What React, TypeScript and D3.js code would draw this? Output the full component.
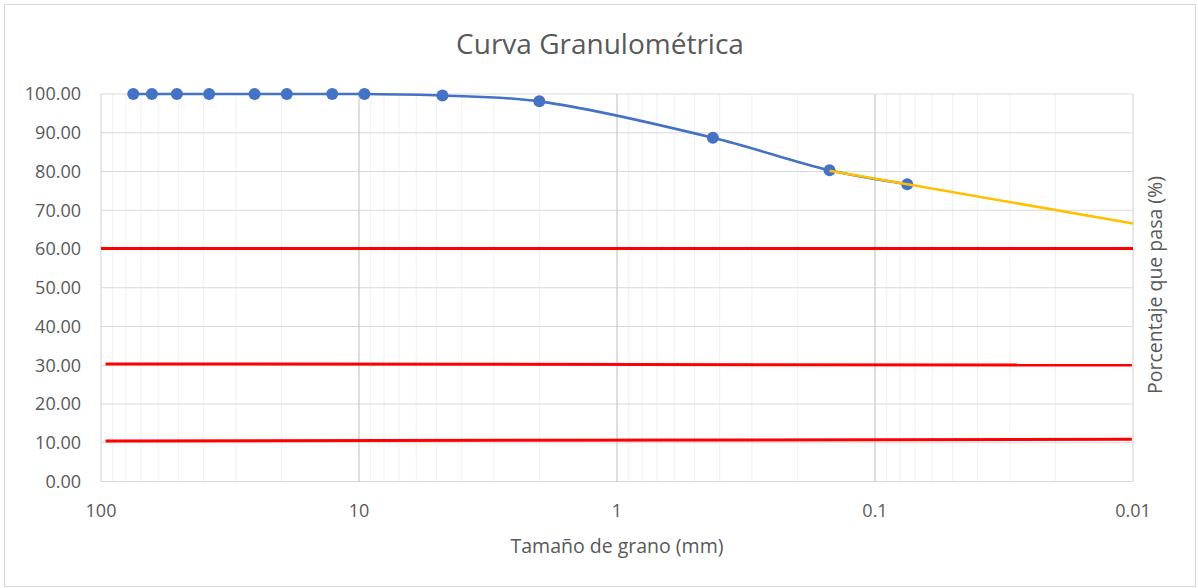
import * as d3 from 'd3';

// sieve openings (mm) and percent passing
const sizes = [75, 63.5, 50.8, 38.1, 25.4, 19.05, 12.7, 9.525, 4.75, 2.0, 0.425, 0.15, 0.075];
const passing = [100, 100, 100, 100, 100, 100, 100, 100, 99.6, 98.1, 88.7, 80.3, 76.7];

// extrapolated fines trend (yellow)
const trendSizes = [0.15, 0.01];
const trendPassing = [80.2, 66.6];

// D60 / D30 / D10 reference lines
const d60Sizes = [100, 0.01];
const d60Values = [60.1, 60.1];
const d30Sizes = [96, 0.0101];
const d30Values = [30.35, 30.05];
const d10Sizes = [96, 0.0101];
const d10Values = [10.45, 10.9];

const xTicks = [100, 10, 1, 0.1, 0.01];
const yTicks = [0, 10, 20, 30, 40, 50, 60, 70, 80, 90, 100];

const W = 1198;
const H = 588;
const FONT = '"Open Sans", sans-serif';

export default function App() {
	const x = d3.scaleLog().domain([100, 0.01]).range([101, 1133]);
	const y = d3.scaleLinear().domain([0, 100]).range([481.5, 94]);

	// minor gridlines: 2..9 within each decade
	const minor: number[] = [];
	for (let e = -2; e < 2; e++) {
		for (let m = 2; m <= 9; m++) minor.push(m * Math.pow(10, e));
	}

	const pts = sizes.map((s, i) => [x(s), y(passing[i])] as [number, number]);
	const smooth = d3.line().curve(d3.curveCatmullRom.alpha(0.5));
	const straight = d3.line();

	const pair = (xs: number[], ys: number[]) =>
		xs.map((s, i) => [x(s), y(ys[i])] as [number, number]);

	const [x0, x1] = x.range();
	const [y0, y1] = y.range();

	return (
		<svg
			width={W}
			height={H}
			style={{ position: 'absolute', left: 0, top: 0, background: '#fff' }}
		>
			<rect x={4.5} y={4.5} width={1191} height={582} fill="#fff" stroke="#d9d9d9" />

			<text
				x={600}
				y={54}
				textAnchor="middle"
				fontFamily={FONT}
				fontSize={28}
				fill="#595959"
			>
				Curva Granulométrica
			</text>

			{/* gridlines */}
			{minor.map((v) => (
				<line key={'m' + v} x1={x(v)} x2={x(v)} y1={y0} y2={y1} stroke="#f0f0f0" strokeWidth={1} />
			))}
			{yTicks.map((v) => (
				<line key={'h' + v} x1={x0} x2={x1} y1={y(v)} y2={y(v)} stroke="#d9d9d9" strokeWidth={1.2} />
			))}
			{xTicks.map((v) => (
				<line
					key={'v' + v}
					x1={x(v)}
					x2={x(v)}
					y1={y0}
					y2={y1}
					stroke={v === 100 || v === 0.01 ? '#d9d9d9' : '#c8c8c8'}
					strokeWidth={1.2}
				/>
			))}

			{/* reference lines */}
			{[
				pair(d60Sizes, d60Values),
				pair(d30Sizes, d30Values),
				pair(d10Sizes, d10Values),
			].map((p, i) => (
				<path key={'r' + i} d={straight(p) || ''} stroke="#ff0000" strokeWidth={3} fill="none" />
			))}

			{/* grading curve */}
			<path d={smooth(pts) || ''} stroke="#4472c4" strokeWidth={2.6} fill="none" />
			{pts.map(([px, py], i) => (
				<circle key={'p' + i} cx={px} cy={py} r={6} fill="#4472c4" />
			))}

			<path
				d={straight(pair(trendSizes, trendPassing)) || ''}
				stroke="#ffc000"
				strokeWidth={2.6}
				fill="none"
			/>

			{/* y tick labels */}
			{yTicks.map((v) => (
				<text
					key={'yt' + v}
					x={81}
					y={y(v)}
					dy="0.35em"
					textAnchor="end"
					fontFamily={FONT}
					fontSize={18}
					fill="#595959"
				>
					{v.toFixed(2)}
				</text>
			))}

			{/* x tick labels */}
			{xTicks.map((v) => (
				<text
					key={'xt' + v}
					x={x(v)}
					y={517}
					textAnchor="middle"
					fontFamily={FONT}
					fontSize={18}
					fill="#595959"
				>
					{String(v)}
				</text>
			))}

			<text
				x={617}
				y={553}
				textAnchor="middle"
				fontFamily={FONT}
				fontSize={19.5}
				fill="#595959"
			>
				Tamaño de grano (mm)
			</text>
			<text
				transform="translate(1155,285) rotate(-90)"
				dy="0.35em"
				textAnchor="middle"
				fontFamily={FONT}
				fontSize={19.5}
				fill="#595959"
			>
				Porcentaje que pasa (%)
			</text>
		</svg>
	);
}
